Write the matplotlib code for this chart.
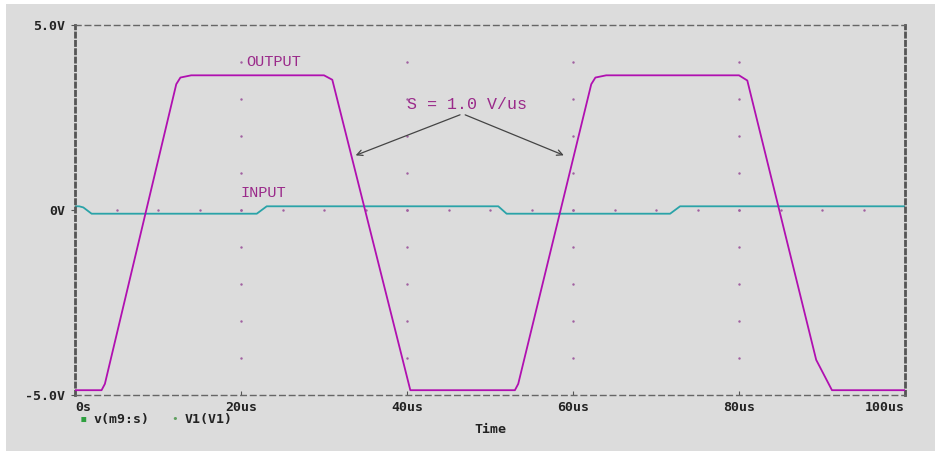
import matplotlib.pyplot as plt
from matplotlib.patches import Rectangle

# time in us, voltage in V
out_t = [0, 3.2, 3.6, 12.2, 12.7, 14.0, 30.0, 31.0, 40.4, 53.0, 53.4,
         62.2, 62.7, 64.0, 80.0, 81.0, 89.3, 91.2, 100]
out_v = [-4.87, -4.87, -4.7, 3.4, 3.58, 3.64, 3.64, 3.52, -4.87, -4.87, -4.7,
         3.4, 3.58, 3.64, 3.64, 3.5, -4.05, -4.87, -4.87]

in_t = [0, 0.5, 1.0, 2.0, 21.9, 23.1, 51.0, 52.0, 71.7, 72.9, 100]
in_v = [0.1, 0.1, 0.07, -0.1, -0.1, 0.1, 0.1, -0.1, -0.1, 0.1, 0.1]

x_ticks = [0, 20, 40, 60, 80, 100]
x_labels = ['0s', '20us', '40us', '60us', '80us', '100us']
y_ticks = [-5, 0, 5]
y_labels = ['-5.0V', '0V', '5.0V']

bg = '#dcdcdc'
frame_c = '#555555'
out_c = '#b010b0'
in_c = '#2aa3a8'
txt_c = '#9a2a8a'
mono = 'DejaVu Sans Mono'
lab_font = 'Liberation Mono'

fig = plt.figure(figsize=(9.4, 4.53), dpi=100)
fig.patch.set_facecolor('white')
fig.patches.append(Rectangle((6 / 940, 1 - 451 / 453), 929 / 940, 447 / 453,
                             transform=fig.transFigure, facecolor=bg,
                             edgecolor='none', zorder=-10))

ax = fig.add_axes([75 / 940, 1 - 395 / 453, 830 / 940, 370 / 453])
ax.set_facecolor(bg)
ax.set_xlim(0, 100)
ax.set_ylim(-5, 5)

# dashed frame
for side in ['top', 'bottom']:
    ax.spines[side].set_linestyle((0, (4, 3)))
    ax.spines[side].set_color('#666666')
    ax.spines[side].set_linewidth(1.0)
for side in ['left', 'right']:
    ax.spines[side].set_linestyle((0, (1.5, 1.5)))
    ax.spines[side].set_color(frame_c)
    ax.spines[side].set_linewidth(2)

# dot grid: every 20us x 1V, plus 5us steps along 0V
for gx in [20, 40, 60, 80]:
    ax.plot([gx] * 9, [-4, -3, -2, -1, 0, 1, 2, 3, 4], ls='none', marker='.',
            ms=1.5, color='#a060a0', zorder=1)
for gx in range(5, 100, 5):
    ax.plot(gx, 0, ls='none', marker='.', ms=1.5, color='#a060a0', zorder=1)

ax.plot(out_t, out_v, color=out_c, lw=1.3, zorder=3)
ax.plot(in_t, in_v, color=in_c, lw=1.3, zorder=2)

ax.set_xticks(x_ticks)
ax.set_xticklabels(x_labels)
ax.set_yticks(y_ticks)
ax.set_yticklabels(y_labels)
ax.tick_params(axis='both', length=3, color=frame_c, labelsize=9.5, pad=2)
for lab in ax.get_xticklabels() + ax.get_yticklabels():
    lab.set_family(mono)
    lab.set_weight('bold')
    lab.set_color('#222222')
ax.get_xticklabels()[0].set_ha('left')
ax.get_xticklabels()[-1].set_ha('right')
ax.tick_params(axis='x', direction='in', pad=4)
ax.tick_params(axis='y', pad=4)

ax.set_xlabel('Time', family=mono, weight='bold', fontsize=9.5, color='#222222',
              labelpad=7)

# legend-like labels under the axis
ax.text(0.6, -5.65, '\u25aa', color='#2fa040', fontsize=9, ha='left', va='center',
        family=mono)
ax.text(2.2, -5.65, 'v(m9:s)', color='#222222', fontsize=9.5, ha='left',
        va='center', family=mono, weight='bold')
ax.text(11.6, -5.65, '\u2022', color='#60a060', fontsize=8, ha='left',
        va='center', family=mono)
ax.text(13.2, -5.65, 'V1(V1)', color='#222222', fontsize=9.5, ha='left',
        va='center', family=mono, weight='bold')

# annotations
ax.text(20.6, 4.0, 'OUTPUT', color=txt_c, fontsize=11, ha='left', va='center',
        family=lab_font)
ax.text(19.9, 0.46, 'INPUT', color=txt_c, fontsize=11, ha='left', va='center',
        family=lab_font)
ax.text(40.0, 2.86, 'S = 1.0 V/us', color=txt_c, fontsize=12, ha='left',
        va='center', family=lab_font)
for tx, ty in [(33.5, 1.45), (59.2, 1.45)]:
    ax.annotate('', xy=(tx, ty), xytext=(46.7, 2.6),
                arrowprops=dict(arrowstyle='->', color='#444444', lw=0.9,
                                mutation_scale=10))

fig.savefig('out.png', dpi=100, facecolor=fig.get_facecolor())
